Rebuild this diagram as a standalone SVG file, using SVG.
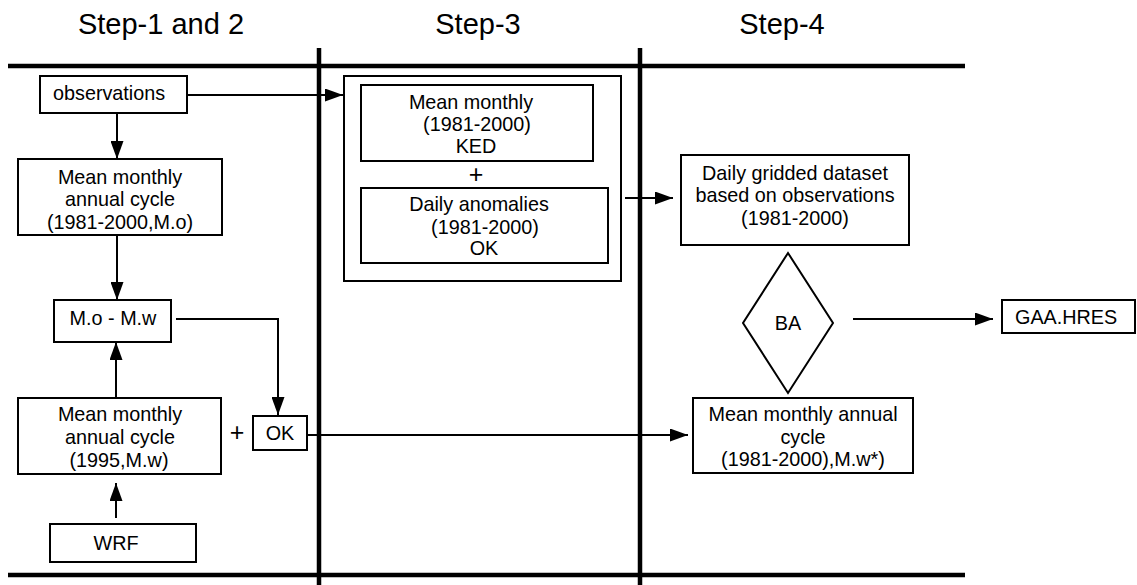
<svg xmlns="http://www.w3.org/2000/svg" width="1137" height="585" viewBox="0 0 1137 585">
<style>
  .bg{fill:#fff}
  .frame{stroke:#000;stroke-width:4.5;fill:none}
  .box{fill:#fff;stroke:#000;stroke-width:2}
  .t{font-family:"Liberation Sans",Arial,sans-serif;font-size:19.8px;fill:#000;text-anchor:middle}
  .ts{font-family:"Liberation Sans",Arial,sans-serif;font-size:19.8px;fill:#000;text-anchor:start}
  .title{font-family:"Liberation Sans",Arial,sans-serif;font-size:29px;fill:#000;text-anchor:middle}
  .plus{font-family:"Liberation Sans",Arial,sans-serif;font-size:25px;fill:#000;text-anchor:middle}
  .c{stroke:#000;stroke-width:2;fill:none;marker-end:url(#arr)}
</style>
<defs>
  <marker id="arr" viewBox="0 0 18 13" refX="18" refY="6.5" markerWidth="18" markerHeight="13" markerUnits="userSpaceOnUse" orient="auto">
    <path d="M0,0 L18,6.5 L0,13 Z" fill="#000"/>
  </marker>
</defs>
<rect class="bg" x="0" y="0" width="1137" height="585"/>
<g id="titles">
  <text class="title" x="161" y="34">Step-1 and 2</text>
  <text class="title" x="478" y="34">Step-3</text>
  <text class="title" x="782" y="34">Step-4</text>
</g>
<g id="frame">
  <line class="frame" x1="8" y1="66" x2="965" y2="66"/>
  <line class="frame" x1="8" y1="575" x2="965" y2="575"/>
  <line class="frame" x1="319" y1="48" x2="319" y2="585"/>
  <line class="frame" x1="640" y1="48" x2="640" y2="585"/>
</g>
<g id="connectors">
  <path class="c" d="M187,95 H343"/>
  <path class="c" d="M117,113 V159"/>
  <path class="c" d="M117,235 V300"/>
  <path class="c" d="M116,398 V342"/>
  <path class="c" d="M116,518 V483"/>
  <path class="c" d="M176,319 H278 V415"/>
  <path class="c" d="M307,435 H688"/>
  <path class="c" d="M625,198 H673"/>
  <path class="c" d="M853,319 H993"/>
</g>
<g id="observations">
  <rect class="box" x="40" y="76" width="147" height="37"/>
  <text class="ts" x="53" y="100">observations</text>
</g>
<g id="mean-mo">
  <rect class="box" x="18" y="159" width="204" height="76"/>
  <text class="t" x="120" y="184">Mean monthly</text>
  <text class="t" x="120" y="206">annual cycle</text>
  <text class="t" x="120" y="229">(1981-2000,M.o)</text>
</g>
<g id="mo-mw">
  <rect class="box" x="54" y="300" width="117" height="42"/>
  <text class="t" x="113" y="325">M.o - M.w</text>
</g>
<g id="mean-mw">
  <rect class="box" x="18" y="398" width="203" height="76"/>
  <text class="t" x="120" y="421">Mean monthly</text>
  <text class="t" x="120" y="444">annual cycle</text>
  <text class="t" x="119" y="467">(1995,M.w)</text>
</g>
<g id="wrf">
  <rect class="box" x="50" y="524" width="146" height="38"/>
  <text class="t" x="116" y="550">WRF</text>
</g>
<g id="plus1">
  <text class="plus" x="237" y="441">+</text>
</g>
<g id="ok">
  <rect class="box" x="253" y="416" width="54" height="34"/>
  <text class="t" x="280" y="440">OK</text>
</g>
<g id="step3">
  <rect class="box" x="344" y="76" width="277" height="205"/>
  <rect class="box" x="361" y="85" width="232" height="76"/>
  <text class="t" x="471" y="109">Mean monthly</text>
  <text class="t" x="477" y="131">(1981-2000)</text>
  <text class="t" x="476" y="153">KED</text>
  <text class="plus" x="476" y="183">+</text>
  <rect class="box" x="361" y="188" width="247" height="75"/>
  <text class="t" x="479" y="211">Daily anomalies</text>
  <text class="t" x="485" y="234">(1981-2000)</text>
  <text class="t" x="484" y="255">OK</text>
</g>
<g id="daily-gridded">
  <rect class="box" x="681" y="155" width="228" height="90"/>
  <text class="t" x="795" y="180">Daily gridded dataset</text>
  <text class="t" x="795" y="202">based on observations</text>
  <text class="t" x="795" y="225">(1981-2000)</text>
</g>
<g id="ba">
  <polygon class="box" points="788,253 833,323 788,393 743,323"/>
  <text class="t" x="788" y="330">BA</text>
</g>
<g id="gaa">
  <rect class="box" x="1002" y="300" width="133" height="33"/>
  <text class="ts" x="1015" y="324">GAA.HRES</text>
</g>
<g id="mean-mw-star">
  <rect class="box" x="693" y="398" width="220" height="75"/>
  <text class="t" x="803" y="421">Mean monthly annual</text>
  <text class="t" x="803" y="444">cycle</text>
  <text class="t" x="803" y="466">(1981-2000),M.w*)</text>
</g>
</svg>
